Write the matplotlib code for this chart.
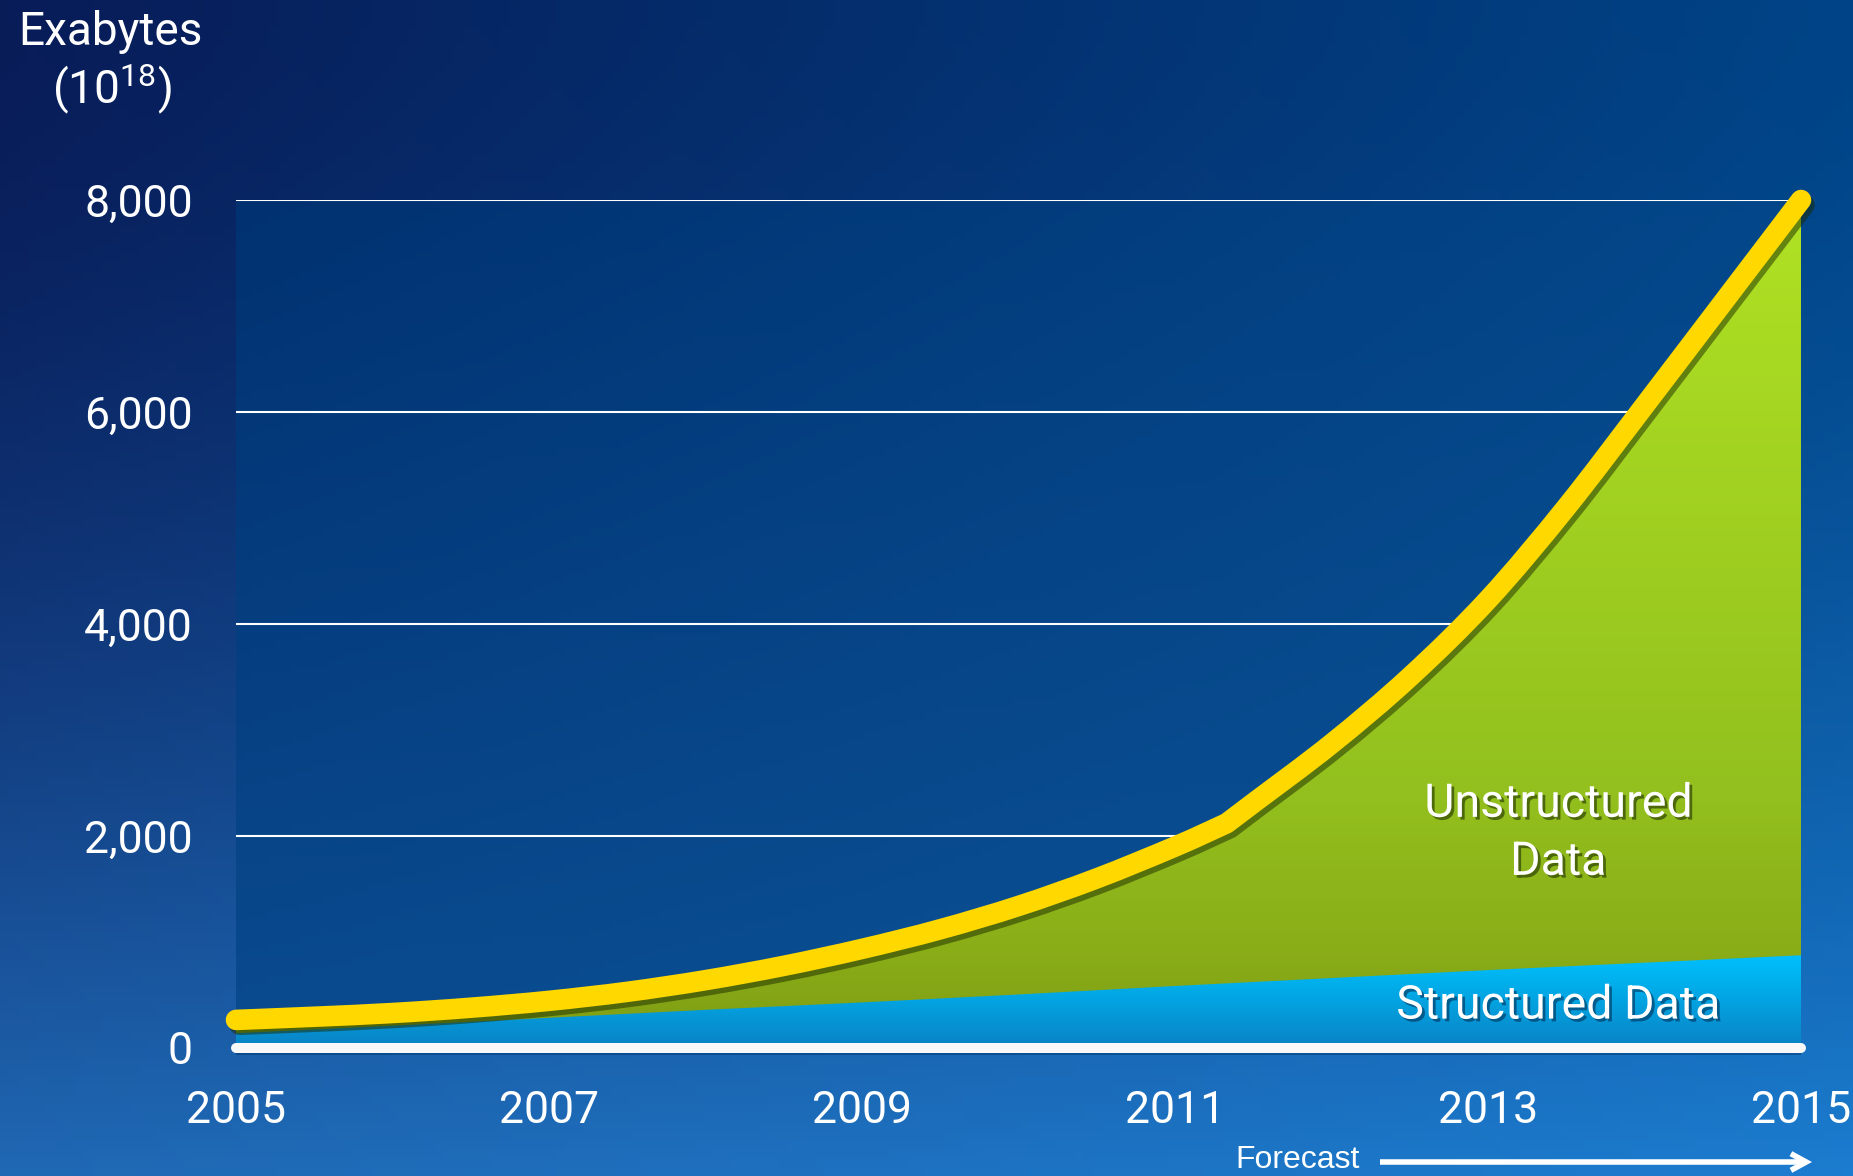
import numpy as np
import matplotlib
matplotlib.use("Agg")
import matplotlib.pyplot as plt
import matplotlib.patheffects as pe
from matplotlib.path import Path
from matplotlib.patches import PathPatch
from matplotlib.colors import LinearSegmentedColormap, to_rgb

# data (exabytes)
years = [2005, 2005.5, 2006, 2006.5, 2007, 2007.5, 2008, 2008.5, 2009, 2009.5, 2010,
         2010.5, 2011, 2011.33, 2011.5, 2012, 2012.5, 2013, 2013.5, 2014, 2014.5, 2015]
total_eb = [265, 295, 330, 380, 445, 530, 640, 775, 935, 1120, 1340,
            1600, 1900, 2120, 2310, 2870, 3500, 4230, 5100, 6060, 7030, 8000]
kink_year = 2011.33  # the curve bends sharply here
struct_years = [2005, 2006, 2007, 2008, 2009, 2010, 2011, 2012, 2013, 2014, 2015]
structured_eb = [140, 210, 285, 360, 430, 505, 585, 660, 735, 805, 875]

y_ticks = [0, 2000, 4000, 6000, 8000]
y_labels = ['0', '2,000', '4,000', '6,000', '8,000']
x_ticks = [2005, 2007, 2009, 2011, 2013, 2015]
x_labels = ['2005', '2007', '2009', '2011', '2013', '2015']

W, H = 1853, 1176
plt.rcParams['font.family'] = ['Roboto', 'DejaVu Sans']
plt.rcParams['mathtext.fontset'] = 'custom'
plt.rcParams['mathtext.rm'] = 'Roboto'


def corner_grad(tl, tr, bl, br, nx=200, ny=130, gamma=1.0):
    u = np.linspace(0, 1, nx)
    v = np.linspace(0, 1, ny) ** gamma
    U, V = np.meshgrid(u, v)
    tl, tr, bl, br = [np.array(to_rgb(c)) for c in (tl, tr, bl, br)]
    top = tl * (1 - U[..., None]) + tr * U[..., None]
    bot = bl * (1 - U[..., None]) + br * U[..., None]
    return top * (1 - V[..., None]) + bot * V[..., None]


def smooth_path(xs, ys, breaks=()):
    # catmull-rom through the points, drawn as cubic bezier segments
    pts = np.column_stack([xs, ys]).astype(float)
    verts = [pts[0]]
    codes = [Path.MOVETO]
    cuts = [0] + sorted(breaks) + [len(pts) - 1]
    for a, b in zip(cuts[:-1], cuts[1:]):
        seg = pts[a:b + 1]
        ext = np.vstack([seg[0], seg, seg[-1]])
        for i in range(len(seg) - 1):
            p0, p1, p2, p3 = ext[i], ext[i + 1], ext[i + 2], ext[i + 3]
            verts += [p1 + (p2 - p0) / 6, p2 - (p3 - p1) / 6, p2]
            codes += [Path.CURVE4] * 3
    return verts, codes


fig = plt.figure(figsize=(W / 100, H / 100), dpi=100)

# page background
bg = fig.add_axes([0, 0, 1, 1], zorder=-5)
bg.imshow(corner_grad('#081c58', '#004487', '#2068b4', '#1c7ccf', gamma=1.6),
          extent=[0, 1, 0, 1], origin='upper', aspect='auto')
bg.set_xlim(0, 1)
bg.set_ylim(0, 1)
bg.axis('off')

# plot area: 2005 -> x 236, 2015 -> x 1801, 0 -> y 1048, 8000 -> y 200
ymin = -70
px_per = (1048 - 200) / 8000
bottom_px = 1048 + (-ymin) * px_per
ax = fig.add_axes([236 / W, (H - bottom_px) / H, (1801 - 236) / W, (bottom_px - 200) / H])
ax.patch.set_alpha(0)
for s in ax.spines.values():
    s.set_visible(False)

ax.imshow(corner_grad('#013170', '#03478a', '#0a4b90', '#0b5598'),
          extent=[2005, 2015, ymin, 8000], origin='upper', aspect='auto', zorder=0)

ax.hlines(y_ticks[1:], x_ticks[0], x_ticks[-1], colors='white', lw=1.5, zorder=1)

# total curve
cverts, ccodes = smooth_path(years, total_eb, breaks=[years.index(kink_year)])

# unstructured (green) area = everything under the total curve
area_path = Path(cverts + [(years[-1], 0), (years[0], 0), cverts[0]],
                 ccodes + [Path.LINETO, Path.LINETO, Path.CLOSEPOLY])
area_patch = PathPatch(area_path, transform=ax.transData, facecolor='none', edgecolor='none')
ax.add_patch(area_patch)
green_cmap = LinearSegmentedColormap.from_list(
    'g', [(0, '#7f9c14'), (0.12, '#8aae18'), (0.3, '#93c01e'), (1, '#b0e224')])
gim = ax.imshow(np.linspace(0, 1, 256)[:, None], extent=[2005, 2015, 0, 8000],
                origin='lower', aspect='auto', cmap=green_cmap, zorder=2)
gim.set_clip_path(area_patch)

# structured (blue) area
blue_cmap = LinearSegmentedColormap.from_list(
    'b', [(0, '#0a82c4'), (0.75, '#00b4f0'), (1, '#00c0ff')])
bfill = ax.fill_between(struct_years, 0, structured_eb, facecolor='none', edgecolor='none', zorder=3)
bim = ax.imshow(np.linspace(0, 1, 256)[:, None], extent=[2005, 2015, 0, 900],
                origin='lower', aspect='auto', cmap=blue_cmap, zorder=3)
bim.set_clip_path(bfill.get_paths()[0], ax.transData)

# total line
line = PathPatch(Path(cverts, ccodes), transform=ax.transData, fill=False,
                 edgecolor='#ffd800', lw=14.8, capstyle='round', joinstyle='round',
                 clip_on=False, zorder=4,
                 path_effects=[pe.SimpleLineShadow(offset=(2.5, -3.5), shadow_color='#1c2a00',
                                                   alpha=0.5),
                               pe.Normal()])
ax.add_patch(line)

# white baseline
ax.plot([x_ticks[0], x_ticks[-1]], [0, 0], color='#f8f8f8', lw=7.2,
        solid_capstyle='round', clip_on=False, zorder=5)

ax.set_xlim(2005, 2015)
ax.set_ylim(ymin, 8000)
ax.set_yticks(y_ticks, y_labels)
ax.set_xticks(x_ticks, x_labels)
ax.tick_params(length=0, colors='white', labelsize=32)
ax.tick_params(axis='y', pad=31)
ax.tick_params(axis='x', pad=25)

shadow_g = [pe.withSimplePatchShadow(offset=(2, -2), shadow_rgbFace='#1e3000', alpha=0.6)]
shadow_b = [pe.withSimplePatchShadow(offset=(2, -2), shadow_rgbFace='#003058', alpha=0.6)]
ax.text(2013.45, 2030, 'Unstructured\nData', ha='center', va='center', fontsize=33.5,
        color='white', linespacing=1.4, zorder=6, path_effects=shadow_g)
ax.text(2013.45, 400, 'Structured Data', ha='center', va='center', fontsize=33.5,
        color='white', zorder=6, path_effects=shadow_b)

# y-axis title
fig.text(110 / W, 1 - 45 / H, 'Exabytes', ha='center', va='baseline', fontsize=33, color='white')
fig.text(112 / W, 1 - 103 / H, r'$\mathregular{(10^{18})}$', ha='center', va='baseline',
         fontsize=33, color='white')

# forecast arrow
fig.text(1235 / W, 1 - 1160 / H, 'Forecast', family=['Liberation Sans', 'DejaVu Sans'],
         fontsize=23, ha='left', va='center', color='white')
ax.annotate('', xy=(1812, H - 1162), xytext=(1380, H - 1162),
            xycoords='figure pixels', textcoords='figure pixels', annotation_clip=False,
            arrowprops=dict(arrowstyle='->,head_length=1.1,head_width=0.6', lw=4,
                            color='white', shrinkA=0, shrinkB=0,
                            joinstyle='miter', capstyle='butt'))

fig.savefig('out.png', dpi=100)
